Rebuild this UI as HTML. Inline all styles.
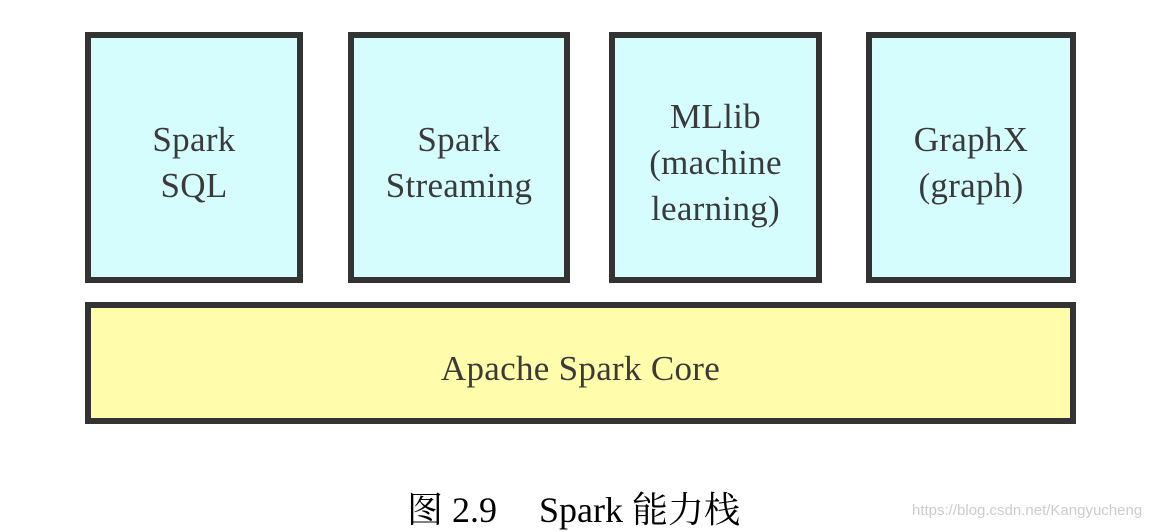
<html><head><style>
body{margin:0;width:1162px;height:532px;background:#fff;position:relative;overflow:hidden;font-family:"Liberation Serif","Noto Serif CJK SC",serif}
.b{position:absolute;box-sizing:border-box;border:6px solid #333;background:#d6fdfd;display:flex;align-items:center;justify-content:center;text-align:center;color:#3a3a3a;font-size:35px;line-height:46px;padding-top:10px;letter-spacing:0.3px}
</style></head><body>
<div class="b" style="left:85px;top:32px;width:218px;height:251px">Spark<br>SQL</div>
<div class="b" style="left:348px;top:32px;width:222px;height:251px">Spark<br>Streaming</div>
<div class="b" style="left:609px;top:32px;width:213px;height:251px">MLlib<br>(machine<br>learning)</div>
<div class="b" style="left:866px;top:32px;width:210px;height:251px">GraphX<br>(graph)</div>
<div class="b" style="left:85px;top:302px;width:991px;height:122px;background:#fffcab;padding-top:12px">Apache Spark Core</div>
<div style="position:absolute;left:407px;top:488px;font-size:36px;color:#000;white-space:pre;line-height:44px">图 2.9<span style="display:inline-block;width:42px"></span>Spark 能力栈</div>
<div style="position:absolute;left:912px;top:502px;font-family:'Liberation Sans',sans-serif;font-size:15px;color:#ccc">https://blog.csdn.net/Kangyucheng</div>
</body></html>
